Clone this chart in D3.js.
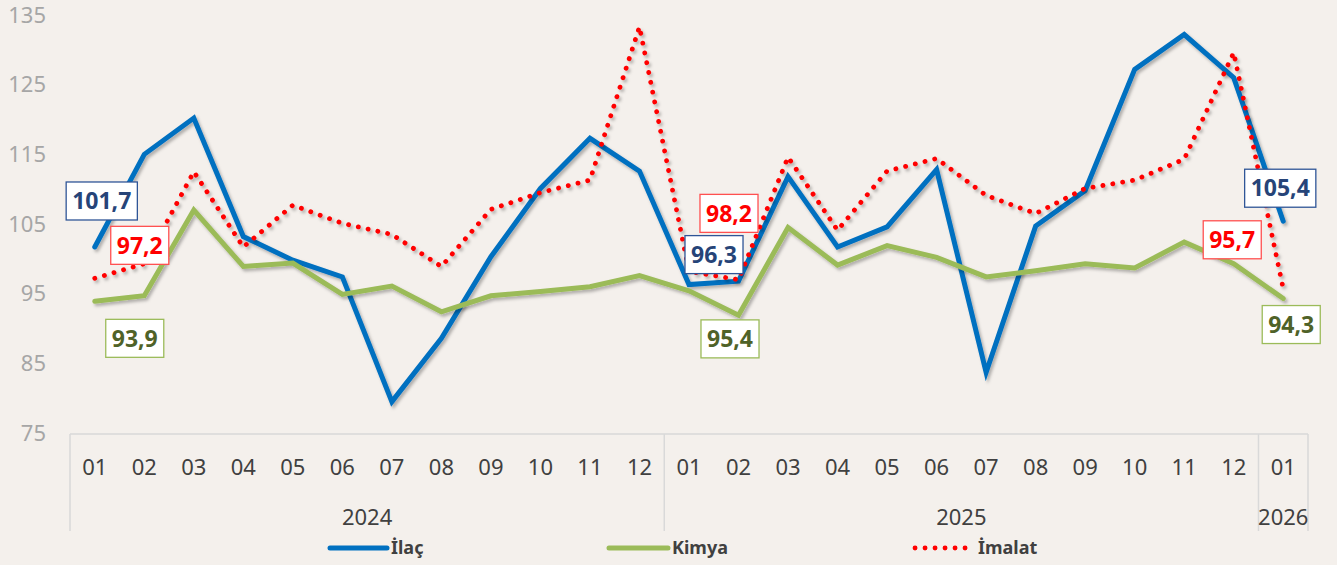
<!DOCTYPE html>
<html>
<head>
<meta charset="utf-8">
<script src="https://cdn.jsdelivr.net/npm/d3@7"></script>
<style>
  body { margin: 0; background: #f4f0ec; }
  svg { display: block; font-family: "Noto Sans", sans-serif; }
  .ytick text { fill: #a6a6a6; font-size: 22px; }
  .month { fill: #404040; font-size: 22px; }
  .year { fill: #404040; font-size: 22px; }
  .legend text { fill: #404040; font-size: 18px; font-weight: bold; }
  .lbl text { font-size: 23px; font-weight: bold; }
</style>
</head>
<body>
<svg width="1337" height="565"></svg>
<script>
// data (monthly index)
var months = ["01","02","03","04","05","06","07","08","09","10","11","12",
  "01","02","03","04","05","06","07","08","09","10","11","12","01"];
var yearLabels = ["2024", "2025", "2026"];
var yearSpans = [12, 12, 1];
var yTicks = [75, 85, 95, 105, 115, 125, 135];

var ilac = [101.7, 115.0, 120.2, 103.2, 99.8, 97.4, 79.5, 88.6, 100.3, 110.1, 117.3, 112.6,
  96.3, 96.8, 111.8, 101.7, 104.6, 112.8, 83.7, 104.7, 109.8, 127.2, 132.2, 126.0, 105.4];
var kimya = [93.9, 94.7, 107.0, 98.9, 99.4, 94.9, 96.1, 92.4, 94.7, 95.3, 96.0, 97.6,
  95.4, 91.9, 104.5, 99.1, 101.9, 100.2, 97.4, 98.3, 99.3, 98.7, 102.4, 99.3, 94.3];
var imalat = [97.2, 99.3, 112.5, 101.7, 107.7, 105.1, 103.5, 98.9, 107.1, 109.5, 111.3, 133.3,
  98.2, 97.0, 114.6, 104.1, 112.6, 114.4, 109.1, 106.5, 110.1, 111.3, 114.3, 129.6, 95.7];

// points that carry a value box
var labelIdx = [0, 12, 24];

var series = [
  { name: "İlaç", values: ilac, color: "#0070c0", dash: null, text: "#264478", border: "#2f5597",
    off: [[7, -46], [25, -30], [-3, -33]] },
  { name: "Kimya", values: kimya, color: "#9bbb59", dash: null, text: "#4f6228", border: "#9bbb59",
    off: [[40, 37], [41, 48], [8, 26]] },
  { name: "İmalat", values: imalat, color: "#ff0000", dash: "0.1 9.9", text: "#ff0000", border: "#ff5050",
    off: [[45, -33], [40, -58], [-51, -49]] }
];

var svg = d3.select("svg");
var left = 70, right = 1308, axisY = 434;

var x = d3.scaleBand()
  .domain(d3.range(months.length))
  .range([left, right]);

var y = d3.scaleLinear()
  .domain([75, 135])
  .range([433, 15]);

function cx(i) { return x(i) + x.bandwidth() / 2; }

var defs = svg.append("defs");
defs.append("filter")
  .attr("id", "shadow")
  .attr("x", "-5%").attr("y", "-5%")
  .attr("width", "110%").attr("height", "120%")
  .append("feDropShadow")
  .attr("dx", 2).attr("dy", 2.5)
  .attr("stdDeviation", 1.5)
  .attr("flood-color", "#000")
  .attr("flood-opacity", 0.28);

// y axis labels only
var yAxis = d3.axisLeft(y)
  .tickValues(yTicks)
  .tickSize(0)
  .tickPadding(24)
  .tickFormat(d3.format("d"));

svg.append("g")
  .attr("class", "ytick")
  .attr("transform", "translate(" + left + ",0)")
  .call(yAxis)
  .call(function(g) { g.select(".domain").remove(); })
  .selectAll("text")
  .style("font-family", "Noto Sans");

// category axis frame
var frame = svg.append("g").attr("stroke", "#d9d9d9").attr("stroke-width", 1.5);
frame.append("line")
  .attr("x1", left).attr("x2", right)
  .attr("y1", axisY).attr("y2", axisY);

var starts = [0];
yearSpans.forEach(function(n, i) { starts.push(starts[i] + n); });

frame.selectAll(".sep")
  .data(starts)
  .enter()
  .append("line")
  .attr("x1", function(d) { return d < months.length ? x(d) : right; })
  .attr("x2", function(d) { return d < months.length ? x(d) : right; })
  .attr("y1", axisY)
  .attr("y2", 531);

svg.selectAll(".month")
  .data(months)
  .enter()
  .append("text")
  .attr("class", "month")
  .attr("x", function(d, i) { return cx(i); })
  .attr("y", 467)
  .attr("dy", "0.35em")
  .attr("text-anchor", "middle")
  .text(function(d) { return d; });

svg.selectAll(".year")
  .data(yearLabels)
  .enter()
  .append("text")
  .attr("class", "year")
  .attr("x", function(d, i) {
    var a = x(starts[i]);
    var b = starts[i + 1] < months.length ? x(starts[i + 1]) : right;
    return (a + b) / 2;
  })
  .attr("y", 517)
  .attr("dy", "0.35em")
  .attr("text-anchor", "middle")
  .text(function(d) { return d; });

// lines
var line = d3.line()
  .x(function(d, i) { return cx(i); })
  .y(function(d) { return y(d); });

svg.append("g")
  .selectAll("path")
  .data(series)
  .enter()
  .append("path")
  .attr("d", function(d) { return line(d.values); })
  .attr("fill", "none")
  .attr("stroke", function(d) { return d.color; })
  .attr("stroke-width", function(d) { return d.dash ? 4.8 : 5; })
  .attr("stroke-linecap", "round")
  .attr("stroke-linejoin", function(d) { return d.dash ? "round" : "miter"; })
  .attr("stroke-dasharray", function(d) { return d.dash; })
  .attr("filter", "url(#shadow)");

// value boxes
var fmt = function(v) { return d3.format(".1f")(v).replace(".", ","); };

series.forEach(function(s) {
  labelIdx.forEach(function(idx, k) {
    var px = cx(idx) + s.off[k][0],
      py = y(s.values[idx]) + s.off[k][1];
    var g = svg.append("g").attr("class", "lbl");
    var t = g.append("text")
      .attr("x", px)
      .attr("y", py)
      .attr("dy", "0.36em")
      .attr("text-anchor", "middle")
      .attr("fill", s.text)
      .text(fmt(s.values[idx]));
    var w = t.node().getComputedTextLength() + 12;
    g.insert("rect", "text")
      .attr("x", px - w / 2)
      .attr("y", py - 19)
      .attr("width", w)
      .attr("height", 38)
      .attr("fill", "#fff")
      .attr("stroke", s.border)
      .attr("stroke-width", 1.3);
  });
});

// legend
var legendPos = [[330, 387, 391], [609, 668, 672], [915, 972, 978]];
var legend = svg.append("g").attr("class", "legend");

series.forEach(function(s, i) {
  var p = legendPos[i];
  legend.append("line")
    .attr("x1", p[0]).attr("x2", p[1])
    .attr("y1", 548).attr("y2", 548)
    .attr("stroke", s.color)
    .attr("stroke-width", s.dash ? 4.8 : 5)
    .attr("stroke-linecap", "round")
    .attr("stroke-dasharray", s.dash);
  legend.append("text")
    .attr("x", p[2])
    .attr("y", 548)
    .attr("dy", "0.35em")
    .text(s.name);
});
</script>
</body>
</html>
